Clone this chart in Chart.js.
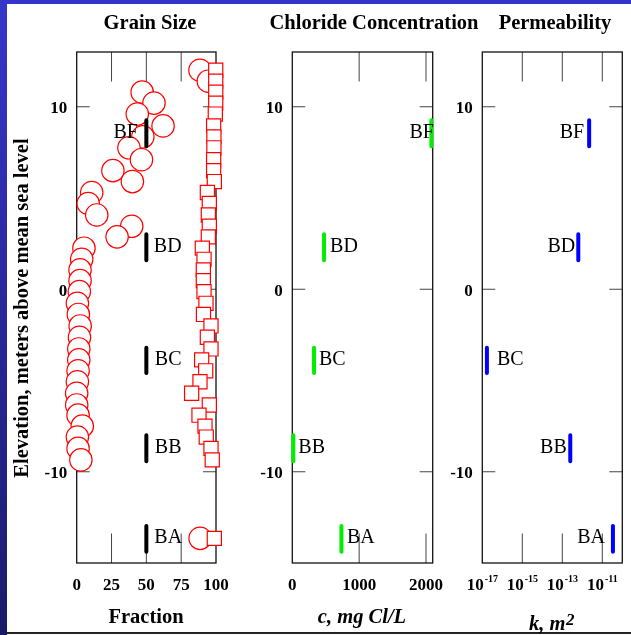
<!DOCTYPE html>
<html>
<head>
<meta charset="utf-8">
<script src="https://cdn.jsdelivr.net/npm/chart.js@4.4.1/dist/chart.umd.min.js"></script>
<style>
html,body{margin:0;padding:0;background:#fff;width:631px;height:635px;overflow:hidden;position:relative;}
#top{position:absolute;left:0;top:0;width:631px;height:4px;background:#3434c8;}
#left{position:absolute;left:0;top:0;width:7px;height:635px;background:linear-gradient(#3636cc,#1b1b6a);}
#bot{position:absolute;left:7px;top:632px;width:624px;height:2px;background:#222;}
canvas{position:absolute;left:0;top:0;}
</style>
</head>
<body>
<div id="top"></div><div id="left"></div><div id="bot"></div>
<canvas id="c1" width="631" height="635"></canvas>
<canvas id="c2" width="631" height="635"></canvas>
<canvas id="c3" width="631" height="635"></canvas>
<script>
// ---------------- data ----------------
const units = ['BF', 'BD', 'BC', 'BB', 'BA'];
const unitTop = [9.26, 3.01, -3.2, -8.0, -12.97];
const unitBottom = [7.84, 1.59, -4.59, -9.42, -14.39];
const grainUnitFraction = [50, 50, 50, 50, 50];
const chloride = [2080, 475, 325, 15, 735];            // mg Cl/L
const permeability = [2.2e-12, 6.3e-13, 1.7e-17, 2.5e-13, 3.4e-11]; // m^2

const sampleElevation = [12.0, 11.4, 10.8, 10.2, 9.6, 8.95, 8.35, 7.75, 7.1, 6.5,
  5.9, 5.3, 4.7, 4.07, 3.45, 2.87, 2.25, 1.64, 1.06, 0.47,
  -0.13, -0.77, -1.38, -2.01, -2.63, -3.27, -3.87, -4.47, -5.07, -5.7,
  -6.34, -6.9, -7.5, -8.1, -8.72, -9.35, -13.65];
const circleFraction = [88.5, 94.5, 47, 55.5, 43.5, 62, 47.5, 37.5, 46.5, 26,
  40, 10.8, 8.3, 14.4, 39.5, 29, 5.2, 3.6, 2.4, 2.4,
  1.9, 0.5, 1.2, 2.5, 2, 1.5, 1.5, 1, 0.5, 0,
  0, 1, 4, 0.5, 1, 3, 88.6];
const squareFraction = [99.8, 99.8, 99.8, 99.8, 99.5, 98.3, 98.5, 98.5, 98.3, 98.3,
  98.8, 93.8, 95.2, 94.5, 95.2, 94.5, 90.2, 91.4, 90.9, 90.9,
  91.4, 92.8, 91, 96.4, 93.8, 96.4, 89.7, 92.6, 88.5, 82.5,
  95.2, 87.8, 92.1, 93, 96.4, 97.3, 98.8];

const elevationTicks = [-10, 0, 10];
const fractionTicks = [0, 25, 50, 75, 100];
const chlorideTicks = [0, 1000, 2000];
const permeabilityTicks = [1e-17, 1e-15, 1e-13, 1e-11];

// ---------------- styling ----------------
const SERIF = "'Liberation Serif','Times New Roman',Times,serif";
const CH_H = 635, CH_W = 631;

function makeDecor(p) {
  return {
    id: 'decor',
    beforeDatasetsDraw(chart) {
      const {ctx, chartArea: a, scales: {x, y}} = chart;
      ctx.save();
      ctx.strokeStyle = '#444';
      ctx.lineWidth = 1;
      ctx.beginPath();
      p.xTicks.forEach(v => {
        const px = x.getPixelForValue(v);
        if (px - a.left < 2 || a.right - px < 2) return;
        ctx.moveTo(px, a.top); ctx.lineTo(px, a.top + 29.5);
        ctx.moveTo(px, a.bottom); ctx.lineTo(px, a.bottom - 29.5);
      });
      elevationTicks.forEach(v => {
        const py = y.getPixelForValue(v);
        ctx.moveTo(a.left, py); ctx.lineTo(a.left + 13, py);
        ctx.moveTo(a.right, py); ctx.lineTo(a.right - 13, py);
      });
      ctx.stroke();
      ctx.strokeStyle = '#111';
      ctx.lineWidth = 1.3;
      ctx.strokeRect(a.left, a.top, a.right - a.left, a.bottom - a.top);

      // y tick labels
      ctx.fillStyle = '#000';
      ctx.font = 'bold 17px ' + SERIF;
      ctx.textAlign = 'right';
      ctx.textBaseline = 'alphabetic';
      elevationTicks.forEach(v => {
        ctx.fillText(String(v), a.left - 9.5, y.getPixelForValue(v) + 6.5);
      });
      // x tick labels
      p.xTicks.forEach(v => {
        const px = x.getPixelForValue(v);
        if (p.log) {
          const e = String(Math.round(Math.log10(v)));
          ctx.font = 'bold 17px ' + SERIF;
          const w1 = ctx.measureText('10').width;
          ctx.font = 'bold 10px ' + SERIF;
          const w2 = ctx.measureText(e).width;
          const x0 = px - (w1 + w2 + 1) / 2;
          ctx.textAlign = 'left';
          ctx.font = 'bold 17px ' + SERIF;
          ctx.fillText('10', x0, 590);
          ctx.font = 'bold 10px ' + SERIF;
          ctx.fillText(e, x0 + w1 + 1, 582);
        } else {
          ctx.textAlign = 'center';
          ctx.font = 'bold 17px ' + SERIF;
          ctx.fillText(String(v), px, 590);
        }
      });
      // panel title
      ctx.textAlign = 'center';
      ctx.font = 'bold 20.5px ' + SERIF;
      ctx.fillText(p.title, p.titleX, 29);
      // axis title
      if (p.sup) {
        ctx.font = 'italic bold 20.5px ' + SERIF;
        const w1 = ctx.measureText(p.axisTitle).width;
        ctx.font = 'italic bold 17px ' + SERIF;
        const w2 = ctx.measureText(p.sup).width;
        const x0 = p.axisX - (w1 + w2) / 2;
        ctx.textAlign = 'left';
        ctx.font = 'italic bold 20.5px ' + SERIF;
        ctx.fillText(p.axisTitle, x0, 630);
        ctx.font = 'italic bold 17px ' + SERIF;
        ctx.fillText(p.sup, x0 + w1 + 0.5, 624.5);
      } else {
        ctx.font = (p.italic ? 'italic ' : '') + 'bold 20.5px ' + SERIF;
        ctx.fillText(p.axisTitle, p.axisX, 623);
      }
      if (p.yTitle) {
        ctx.save();
        ctx.translate(28, 308);
        ctx.rotate(-Math.PI / 2);
        ctx.textAlign = 'center';
        ctx.font = 'bold 20.5px ' + SERIF;
        ctx.fillText(p.yTitle, 0, 0);
        ctx.restore();
      }
      ctx.restore();
    },
    afterDatasetsDraw(chart) {
      const {ctx, scales: {x, y}} = chart;
      ctx.save();
      ctx.fillStyle = '#000';
      ctx.font = '20px ' + SERIF;
      ctx.textBaseline = 'alphabetic';
      units.forEach((u, i) => {
        const px = x.getPixelForValue(p.unitX[i]);
        const py = (y.getPixelForValue(unitTop[i]) + y.getPixelForValue(unitBottom[i])) / 2;
        ctx.textAlign = p.labelAlign[i];
        ctx.fillText(u, px + p.labelOffset[i], py + 4.3);
      });
      ctx.restore();
    }
  };
}

function barDatasets(xs, color) {
  return units.map((u, i) => ({
    type: 'scatter',
    label: u,
    data: [{x: xs[i], y: unitTop[i]}, {x: xs[i], y: unitBottom[i]}],
    showLine: true,
    borderColor: color,
    borderWidth: 4,
    borderCapStyle: 'round',
    pointRadius: 0,
    clip: false,
    order: 0
  }));
}

function makeChart(id, p, xScale, datasets) {
  return new Chart(document.getElementById(id), {
    type: 'scatter',
    data: {datasets},
    options: {
      responsive: false,
      animation: false,
      events: [],
      layout: {padding: {left: p.left, right: CH_W - p.right, top: 52, bottom: CH_H - 563}},
      plugins: {legend: {display: false}, tooltip: {enabled: false}, title: {display: false}},
      scales: {
        x: Object.assign({display: false}, xScale),
        y: {type: 'linear', min: -15, max: 13, display: false}
      }
    },
    plugins: [makeDecor(p)]
  });
}

// Panel 1: grain size
makeChart('c1', {
  left: 76.7, right: 216, xTicks: fractionTicks, title: 'Grain Size', titleX: 150,
  axisTitle: 'Fraction', axisX: 146, yTitle: 'Elevation, meters above mean sea level',
  unitX: grainUnitFraction,
  labelAlign: ['right', 'left', 'left', 'left', 'left'],
  labelOffset: [-8.5, 7.5, 8.5, 8.5, 8]
}, {type: 'linear', min: 0, max: 100}, [
  ...barDatasets(grainUnitFraction, '#000000'),
  {
    label: 'squares',
    data: sampleElevation.map((e, i) => ({x: squareFraction[i], y: e})),
    pointStyle: 'rect', pointRadius: 10, pointBorderWidth: 1.2,
    pointBorderColor: '#ff0000', pointBackgroundColor: '#ffffff',
    clip: false, order: 1
  },
  {
    label: 'circles',
    data: sampleElevation.map((e, i) => ({x: circleFraction[i], y: e})),
    pointStyle: 'circle', pointRadius: 11.2, pointBorderWidth: 1.2,
    pointBorderColor: '#ff0000', pointBackgroundColor: '#ffffff',
    clip: false, order: 2
  }
]);

// Panel 2: chloride
makeChart('c2', {
  left: 292.3, right: 432.7, xTicks: chlorideTicks, title: 'Chloride Concentration', titleX: 374,
  axisTitle: 'c, mg Cl/L', italic: true, axisX: 362,
  unitX: chloride,
  labelAlign: ['right', 'left', 'left', 'left', 'left'],
  labelOffset: [2.5, 6, 5, 5, 5.5]
}, {type: 'linear', min: 0, max: 2100}, barDatasets(chloride, '#00ee00'));

// Panel 3: permeability
makeChart('c3', {
  left: 482.3, right: 622.3, xTicks: permeabilityTicks, log: true, title: 'Permeability', titleX: 555,
  axisTitle: 'k, m', sup: '2', axisX: 551.5,
  unitX: permeability,
  labelAlign: ['right', 'right', 'left', 'right', 'right'],
  labelOffset: [-5, -3, 10, -3.5, -8]
}, {type: 'logarithmic', min: 1e-17, max: 1e-10}, barDatasets(permeability, '#0000ff'));
</script>
</body>
</html>
